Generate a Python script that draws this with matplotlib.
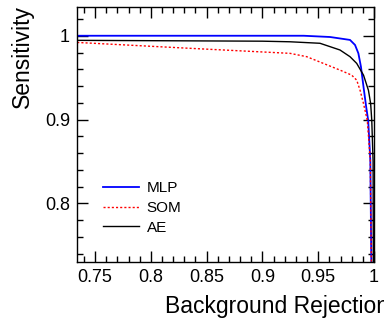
import matplotlib
matplotlib.use("Agg")
import matplotlib.pyplot as plt
from matplotlib.ticker import FixedLocator, MultipleLocator, FuncFormatter

plt.rcParams["font.family"] = ["Liberation Sans", "DejaVu Sans"]

# ROC-style curves: background rejection vs sensitivity
mlp_x = [0.734, 0.90, 0.937, 0.9606, 0.9785, 0.983, 0.986, 0.9883, 0.9906, 0.993, 0.9948, 0.9967, 0.9976]
mlp_y = [1.0, 1.0, 1.0, 0.9985, 0.995, 0.989, 0.979, 0.963, 0.939, 0.915, 0.899, 0.851, 0.73]

som_x = [0.734, 0.835, 0.9247, 0.9397, 0.9546, 0.9695, 0.980, 0.9845, 0.9875, 0.9906, 0.994, 0.9967, 0.9976]
som_y = [0.992, 0.985, 0.979, 0.975, 0.967, 0.959, 0.953, 0.947, 0.935, 0.919, 0.899, 0.851, 0.73]

ae_x = [0.734, 0.90, 0.9247, 0.9516, 0.9695, 0.9785, 0.9845, 0.9906, 0.995, 0.997, 0.998, 0.9992, 0.9994]
ae_y = [0.9945, 0.9935, 0.9928, 0.991, 0.983, 0.975, 0.967, 0.953, 0.935, 0.919, 0.899, 0.85, 0.73]

x_ticks = [0.75, 0.8, 0.85, 0.9, 0.95, 1.0]
y_ticks = [0.8, 0.9, 1.0]

fig = plt.figure(figsize=(3.84, 3.21), dpi=100)
ax = fig.add_axes([77 / 384, 59 / 321, 297 / 384, 255 / 321])

ax.plot(mlp_x, mlp_y, color="#0000ff", lw=1.3, label="MLP")
ax.plot(som_x, som_y, color="#ff0000", lw=1.0, ls=(0, (1.5, 1.5)), label="SOM")
ax.plot(ae_x, ae_y, color="black", lw=1.0, label="AE")

ax.set_xlim(0.7338, 1.0)
ax.set_ylim(0.73, 1.0343)

ax.xaxis.set_major_locator(FixedLocator(x_ticks))
ax.xaxis.set_minor_locator(MultipleLocator(0.01))
ax.yaxis.set_major_locator(FixedLocator(y_ticks))
ax.yaxis.set_minor_locator(MultipleLocator(0.02))
fmt = FuncFormatter(lambda v, p: f"{v:g}")
ax.xaxis.set_major_formatter(fmt)
ax.yaxis.set_major_formatter(fmt)

ax.tick_params(which="both", direction="in", top=True, right=True, width=1.0)
ax.tick_params(which="major", length=8, labelsize=13, pad=5)
ax.tick_params(which="minor", length=4)
for s in ax.spines.values():
    s.set_linewidth(1.0)

leg = ax.legend(loc="center left", bbox_to_anchor=(26 / 297, 54 / 255),
                frameon=False, fontsize=11, handlelength=2.35,
                handletextpad=0.52, labelspacing=0.37, borderpad=0,
                borderaxespad=0)

fig.text(165 / 384, 1 - 306 / 321, "Background Rejection", fontsize=16.5,
         ha="left", va="center")
fig.text(22 / 384, 1 - 5 / 321, "Sensitivity", fontsize=16.5, rotation=90,
         ha="center", va="top")

fig.savefig("out.png", dpi=100)
